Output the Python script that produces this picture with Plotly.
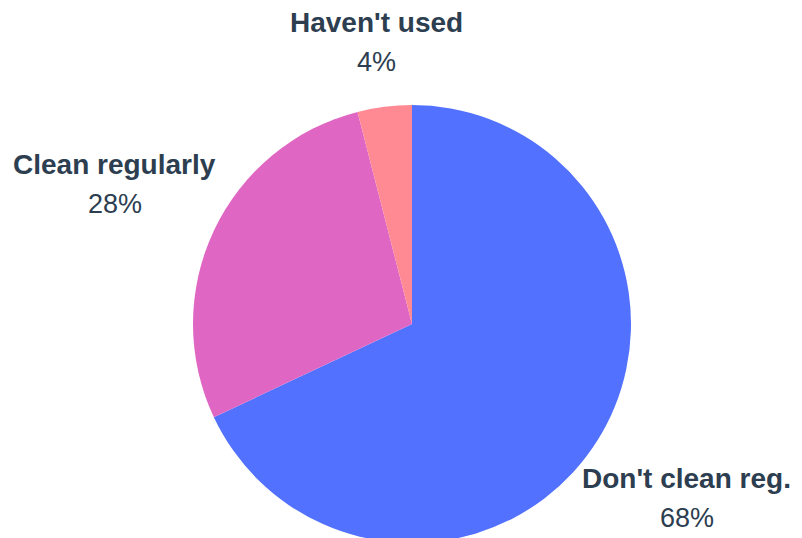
import math
import plotly.graph_objects as go

categories = ["Don't clean reg.", "Clean regularly", "Haven't used"]
values = [68, 28, 4]
colors = ["#5271FF", "#E066C3", "#FF8A94"]

W, H = 794, 560          # figure size (page has an 8px body margin)
OFF = 8                  # body margin offset in the page
CX, CY, R = 412, 324, 219  # pie centre / radius in page pixels
FONT = "Liberation Sans, Arial, sans-serif"
TEXT = "#2C3E50"


def fx(px):
    return (px - OFF) / W


def fy(py):
    return 1 - (py - OFF) / H


dom_x = [fx(CX - R), fx(CX + R)]
dom_y = [fy(CY + R), fy(CY - R)]

fig = go.Figure(go.Pie(
    labels=categories, values=values, sort=False, direction="clockwise", rotation=0,
    marker=dict(colors=colors, line=dict(width=0)),
    textinfo="none", hoverinfo="label+percent",
    domain=dict(x=dom_x, y=dom_y), showlegend=False,
))

total = sum(values)
annotations = []
cum = 0
for cat, v in zip(categories, values):
    mid = (cum + v / 2) / total * 2 * math.pi
    cum += v
    s, c = math.sin(mid), math.cos(mid)
    dist = R + 58 + 57 * abs(s)
    px, py = CX + dist * s, CY - dist * c
    annotations.append(dict(x=fx(px), y=fy(py - 19.5), xref="paper", yref="paper",
                            text=f"<b>{cat}</b>", showarrow=False, xanchor="center", yanchor="middle",
                            font=dict(family=FONT, size=28, color=TEXT)))
    annotations.append(dict(x=fx(px), y=fy(py + 19.5), xref="paper", yref="paper",
                            text=f"{round(v / total * 100)}%", showarrow=False, xanchor="center", yanchor="middle",
                            font=dict(family=FONT, size=27, color=TEXT)))

fig.update_layout(
    width=W, height=H, margin=dict(l=0, r=0, t=0, b=0),
    paper_bgcolor="white", plot_bgcolor="white",
    font=dict(family=FONT, color=TEXT),
    annotations=annotations,
)
fig.write_html("out.html")
